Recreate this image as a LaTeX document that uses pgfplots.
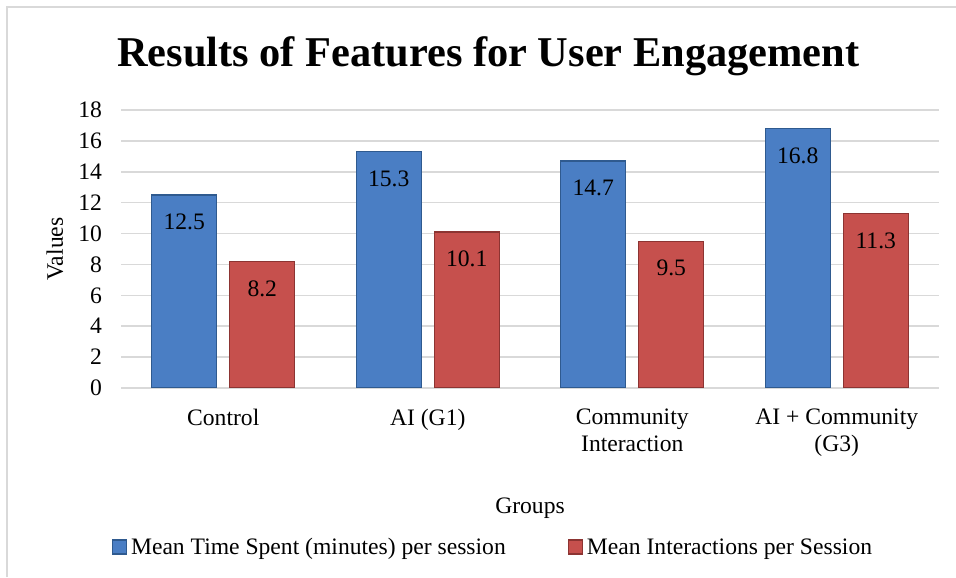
\documentclass[border=0pt]{standalone}
\usepackage{pgfplots}
\pgfplotsset{compat=1.18}
\usepackage{fontspec}
\setmainfont{Liberation Serif}
\definecolor{barblue}{HTML}{4A7EC4}
\definecolor{barblueD}{HTML}{2F5A8F}
\definecolor{barred}{HTML}{C6504D}
\definecolor{barredD}{HTML}{8C3432}
\definecolor{gridgray}{HTML}{D9D9D9}
\begin{document}
\begin{tikzpicture}
\useasboundingbox (0,0) rectangle (478pt,288.5pt);
\draw[gridgray, line width=1pt] (3.5pt,0) -- (3.5pt,285pt) -- (478pt,285pt);
\begin{axis}[
  at={(60.5pt,94.5pt)}, anchor=south west,
  scale only axis, width=409pt, height=139pt,
  ybar=6.5pt, bar width=32.5pt,
  xmin=-0.5, xmax=3.5, ymin=0, ymax=18,
  ytick={0,2,...,18},
  xtick={0,1,2,3},
  xticklabels={Control, AI (G1), {Community\\Interaction}, {AI + Community\\(G3)}},
  axis x line*=bottom, axis y line*=left,
  x axis line style={gridgray, line width=1.2pt, -},
  y axis line style={draw=none},
  ymajorgrids, grid style={gridgray, line width=0.75pt},
  major tick length=0pt,
  tick style={draw=none},
  font=\fontsize{11.8}{13.5}\selectfont,
  /pgf/number format/assume math mode=true,
  xticklabel style={align=center, yshift=-7pt, font=\fontsize{11.8}{13.5}\selectfont},
  yticklabel style={font=\fontsize{11.8}{13.5}\selectfont, xshift=-6pt},
  ylabel={Values}, xlabel={Groups},
  ylabel style={at={(axis description cs:-0.0807,0.5)}, anchor=center},
  xlabel style={at={(axis description cs:0.5,-0.4317)}, anchor=center},
  title={\bfseries Results of Features for User Engagement},
  title style={at={(axis description cs:0.449,1.115)}, anchor=base, font=\fontsize{21.2}{25}\selectfont\bfseries},
  nodes near coords,
  every node near coord/.append style={anchor=center, yshift=-13.5pt, font=\fontsize{11.8}{13.5}\selectfont, text=black},
  nodes near coords style={/pgf/number format/.cd, fixed, precision=1, fixed zerofill, assume math mode=true},
  legend columns=2,
  legend style={at={(axis description cs:-0.019,-0.5755)}, anchor=west, draw=none, fill=none,
    font=\fontsize{11.8}{13.5}\selectfont,
    /tikz/every even column/.append style={column sep=29pt}},
  legend image code/.code={\fill[#1] (0pt,-3pt) rectangle (7pt,4pt);},
]
\addplot[fill=barblue, draw=barblueD, line width=0.6pt] coordinates {(0,12.5) (1,15.3) (2,14.7) (3,16.8)};
\addplot[fill=barred, draw=barredD, line width=0.6pt] coordinates {(0,8.2) (1,10.1) (2,9.5) (3,11.3)};
\legend{Mean Time Spent (minutes) per session, Mean Interactions per Session}
\end{axis}
\end{tikzpicture}
\end{document}
